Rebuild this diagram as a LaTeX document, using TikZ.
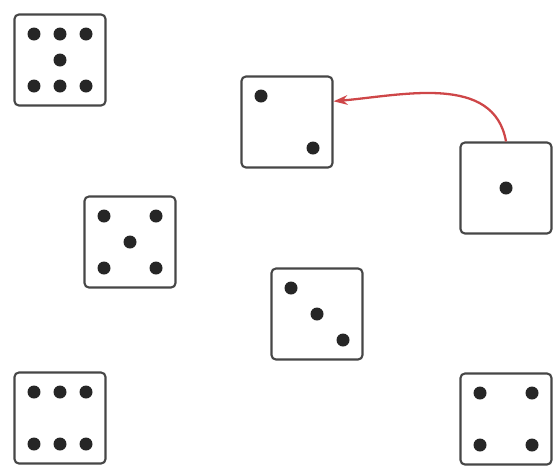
\documentclass[tikz,border=0pt]{standalone}
\usepackage{tikz}
\usetikzlibrary{arrows.meta, calc}
\definecolor{arrowred}{RGB}{206,70,72}
\definecolor{diegray}{RGB}{70,70,70}
\tikzset{
	die/.style={
		rectangle,
		rounded corners=2.5pt,
		draw=diegray,
		line width=1.2pt,
		fill=white,
		minimum size=1.82cm
	},
	pip/.style={
		fill=black!85
	},
	arrow/.style={
		-{Stealth[length=8pt,width=5.5pt]},
		draw=arrowred,
		line width=1.3pt
	}
}
\begin{document}
\begin{tikzpicture}[x=0.02cm, y=-0.02cm]
		\useasboundingbox (0,0) rectangle (553,467);
		
		% dice
		\node (seven) [die] at (60,60)   {};
		\node (two)   [die] at (287,122) {};
		\node (one)   [die] at (506,188) {};
		\node (five)  [die] at (130,242) {};
		\node (three) [die] at (317,314) {};
		\node (six)   [die] at (60,418)  {};
		\node (four)  [die] at (506,419) {};
		
		% pips
		\foreach \dx/\dy in {-1/-1, 0/-1, 1/-1, 0/0, -1/1, 0/1, 1/1}
			\fill [pip] ($(seven)+(26*\dx,26*\dy)$) circle (0.13cm);
		\foreach \dx/\dy in {-1/-1, 1/1}
			\fill [pip] ($(two)+(26*\dx,26*\dy)$) circle (0.13cm);
		\fill [pip] (one) circle (0.13cm);
		\foreach \dx/\dy in {-1/-1, 1/-1, 0/0, -1/1, 1/1}
			\fill [pip] ($(five)+(26*\dx,26*\dy)$) circle (0.13cm);
		\foreach \dx/\dy in {-1/-1, 0/0, 1/1}
			\fill [pip] ($(three)+(26*\dx,26*\dy)$) circle (0.13cm);
		\foreach \dx/\dy in {-1/-1, 0/-1, 1/-1, -1/1, 0/1, 1/1}
			\fill [pip] ($(six)+(26*\dx,26*\dy)$) circle (0.13cm);
		\foreach \dx/\dy in {-1/-1, 1/-1, -1/1, 1/1}
			\fill [pip] ($(four)+(26*\dx,26*\dy)$) circle (0.13cm);
		
		% move
		\draw [arrow] (one.north) to [out=100, in=5] (two.24);
		
	\end{tikzpicture}
\end{document}
